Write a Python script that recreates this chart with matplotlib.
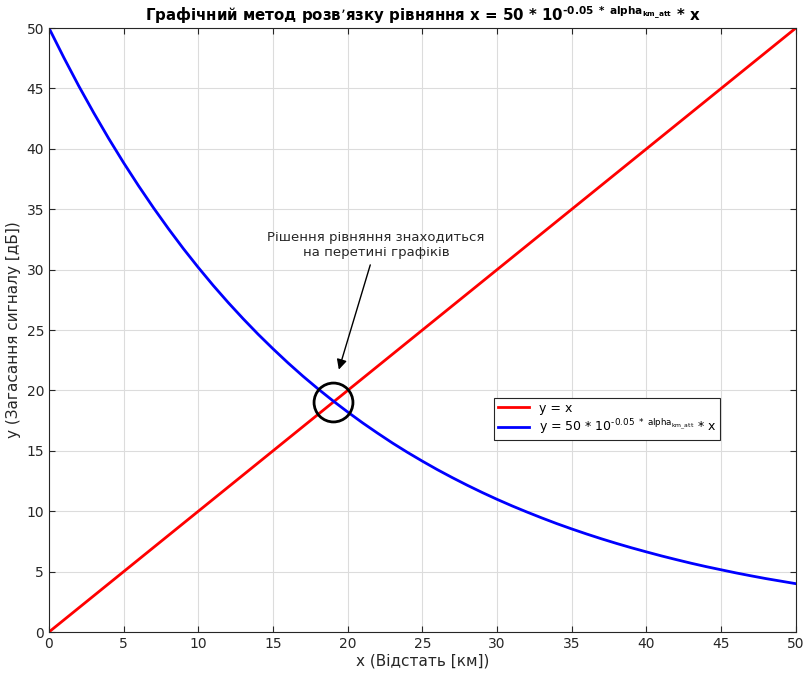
import matplotlib
matplotlib.use("Agg")
import matplotlib.pyplot as plt

# distance samples, km
x_km = list(range(0, 51))
# y = x line
x_line = [0, 50]
y_line = [0, 50]
# attenuation curve, dB
y_curve = [50.00, 47.54, 45.19, 42.97, 40.85, 38.84, 36.93, 35.11, 33.38, 31.73,
           30.17, 28.68, 27.27, 25.93, 24.65, 23.44, 22.28, 21.18, 20.14, 19.15,
           18.21, 17.31, 16.46, 15.64, 14.87, 14.14, 13.44, 12.78, 12.15, 11.55,
           10.98, 10.44, 9.93, 9.44, 8.97, 8.53, 8.11, 7.71, 7.33, 6.97,
           6.63, 6.30, 5.99, 5.69, 5.41, 5.15, 4.89, 4.65, 4.42, 4.21,
           4.00]
# intersection point
x_sol, y_sol = 19.0, 19.0

plt.rcParams['font.family'] = ['DejaVu Sans']

fig = plt.figure(figsize=(8.08, 6.75), dpi=100)
ax = fig.add_axes([0.0606, 0.0637, 0.9244, 0.8948])

ax.plot(x_line, y_line, color='#ff0000', linewidth=2, label='y = x')
ax.plot(x_km, y_curve, color='#0000ff', linewidth=2,
        label='y = 50 * 10$^{\u2010 0.05\\ *\\ \\mathrm{alpha}_{\\mathrm{km\\_att}}}$ * x')
ax.plot([x_sol], [y_sol], marker='o', markersize=28, markerfacecolor='none',
        markeredgecolor='black', markeredgewidth=2, linestyle='none')

ax.annotate('Рішення рівняння знаходиться\nна перетині графіків',
            xy=(19.35, 21.5), xytext=(21.9, 32.0),
            ha='center', va='center', fontsize=9.5, color='#262626',
            arrowprops=dict(arrowstyle='-|>', color='black', lw=1, mutation_scale=15))

ax.set_xlim(0, 50)
ax.set_ylim(0, 50)
ax.set_xticks(range(0, 51, 5))
ax.set_yticks(range(0, 51, 5))
ax.grid(True, color='#dcdcdc', linewidth=0.8)
ax.set_axisbelow(True)
ax.tick_params(direction='in', top=True, right=True, labelsize=10,
               colors='#262626', length=4)
for s in ax.spines.values():
    s.set_color('#262626')
    s.set_linewidth(0.8)

ax.set_xlabel('x (Відстать [км])', fontsize=11, color='#262626', labelpad=2)
ax.set_ylabel('y (Загасання сигналу [дБ])', fontsize=11, color='#262626', labelpad=4)
ax.set_title('Графічний метод розв’язку рівняння x = 50 * 10'
             '$^{\\mathbf{\u2010 0.05\\ *\\ alpha_{km\\_att}}}$ * x',
             fontsize=10.8, fontweight='bold', pad=5)

leg = ax.legend(loc='lower left', bbox_to_anchor=(0.5957, 0.318), fontsize=9,
                fancybox=False, edgecolor='#262626', framealpha=1,
                borderpad=0.3, handlelength=2.5, labelspacing=0.2,
                borderaxespad=0)
leg.get_frame().set_linewidth(0.8)

fig.savefig('out.png', dpi=100)
